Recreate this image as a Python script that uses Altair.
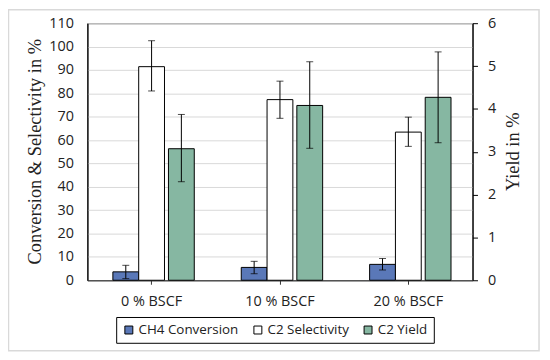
import altair as alt
import pandas as pd

groups = ["0 % BSCF", "10 % BSCF", "20 % BSCF"]
series = ["CH4 Conversion", "C2 Selectivity", "C2 Yield"]
colors = ["#5a78b8", "#ffffff", "#86b7a2"]

ch4 = [3.6, 5.5, 6.8]
ch4_lo = [0.7, 2.8, 4.4]
ch4_hi = [6.4, 8.1, 9.3]

sel = [91.4, 77.3, 63.4]
sel_lo = [81.0, 69.3, 57.3]
sel_hi = [102.5, 85.2, 69.8]

yld = [3.07, 4.08, 4.27]
yld_lo = [2.30, 3.08, 3.21]
yld_hi = [3.87, 5.10, 5.33]

def frame(name, v, lo, hi):
    return pd.DataFrame({"group": groups, "series": name, "value": v, "lo": lo, "hi": hi})

d_ch4 = frame(series[0], ch4, ch4_lo, ch4_hi)
d_sel = frame(series[1], sel, sel_lo, sel_hi)
d_yld = frame(series[2], yld, yld_lo, yld_hi)

tick_font = "Open Sans"
title_font = "Liberation Serif"

x_enc = alt.X("group:N", sort=groups,
              scale=alt.Scale(paddingInner=0, paddingOuter=0),
              axis=alt.Axis(title=None, labelAngle=0, labelFont=tick_font, labelFontSize=14.5,
                            labelColor="#222", labelPadding=10, tickColor="#333", tickSize=4,
                            domainColor="#333", bandPosition=0.5))

color_enc = alt.Color("series:N", scale=alt.Scale(domain=series, range=colors),
                      legend=alt.Legend(title=None, orient="none", legendX=29, legendY=296,
                                        direction="horizontal", columns=3, symbolType="square",
                                        symbolSize=64, symbolStrokeColor="black", symbolStrokeWidth=1,
                                        labelFont=tick_font, labelFontSize=13.5, labelColor="#222",
                                        columnPadding=12, padding=6, fillColor="white",
                                        strokeColor="black", labelOffset=3))

yl_scale = alt.Scale(domain=[0, 110], nice=False)
yl_axis = alt.Axis(title="Conversion & Selectivity in %", values=list(range(0, 111, 10)),
                   labelOverlap=False,
                   titleFont=title_font, titleFontSize=18.5, titleFontWeight="normal", titleColor="#222",
                   titleX=-53, titleY=129, titleAlign="center", titleBaseline="middle", titleAngle=270,
                   labelFont=tick_font, labelFontSize=14.5, labelColor="#222", labelPadding=14,
                   ticks=False, domainColor="black", gridColor="#d9d9d9")

yr_scale = alt.Scale(domain=[0, 6], nice=False)
yr_axis = alt.Axis(title="Yield in %", orient="right", values=list(range(0, 7)), grid=False,
                   labelOverlap=False,
                   titleFont=title_font, titleFontSize=18.5, titleFontWeight="normal", titleColor="#222",
                   titleAngle=270, titleX=40, titleY=129, titleAlign="center", titleBaseline="middle",
                   labelFont=tick_font, labelFontSize=14.5, labelColor="#222",
                   labelPadding=10, tickSize=5, tickColor="black", domainColor="black")

def series_layers(df, off, yscale, yaxis):
    bars = alt.Chart(df).mark_bar(width=26, xOffset=off, stroke="black", strokeWidth=1).encode(
        x=x_enc, y=alt.Y("value:Q", scale=yscale, axis=yaxis), color=color_enc)
    err = alt.Chart(df).mark_rule(xOffset=off, color="black", strokeWidth=1).encode(
        x=x_enc, y=alt.Y("lo:Q", scale=yscale, axis=yaxis), y2="hi:Q")
    cap_lo = alt.Chart(df).mark_tick(xOffset=off, color="black", size=7, thickness=1).encode(
        x=x_enc, y=alt.Y("lo:Q", scale=yscale, axis=yaxis))
    cap_hi = alt.Chart(df).mark_tick(xOffset=off, color="black", size=7, thickness=1).encode(
        x=x_enc, y=alt.Y("hi:Q", scale=yscale, axis=yaxis))
    return [bars, err, cap_lo, cap_hi]

left = alt.layer(*series_layers(d_ch4, -26, yl_scale, yl_axis),
                 *series_layers(d_sel, 0, yl_scale, yl_axis))
right = alt.layer(*series_layers(d_yld, 30, yr_scale, yr_axis))

border = alt.Chart(pd.DataFrame({"a": [0]})).mark_rect(fill=None, stroke="#d9d9d9", strokeWidth=1.5).encode(
    x=alt.value(-79.5), x2=alt.value(455), y=alt.value(-13.5), y2=alt.value(330))

chart = alt.layer(left, right, border).resolve_scale(y="independent").properties(
    width=388, height=259,
    autosize=alt.AutoSizeParams(type="none"),
    padding={"left": 80, "top": 14, "right": 70, "bottom": 75},
    background="white",
).configure_view(stroke="black", strokeWidth=1)

chart.save("out.html", embed_options={"renderer": "svg", "actions": False})
